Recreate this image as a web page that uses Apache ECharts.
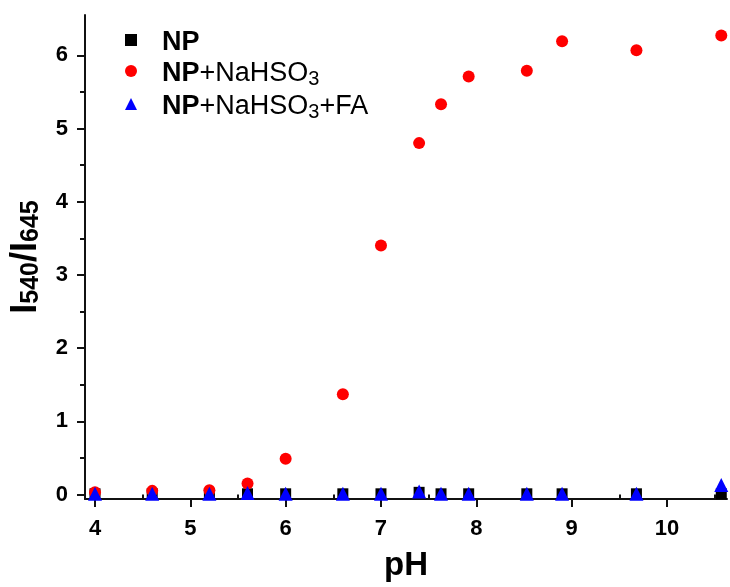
<!DOCTYPE html>
<html>
<head>
<meta charset="utf-8">
<script src="https://cdn.jsdelivr.net/npm/echarts@6/dist/echarts.min.js"></script>
<style>
  html, body { margin: 0; padding: 0; background: #fff; }
  #chart { width: 730px; height: 587px; }
</style>
</head>
<body>
<div id="chart"></div>
<script>
// pH values of the measured samples
const phValues = [4.0, 4.6, 5.2, 5.6, 6.0, 6.6, 7.0, 7.4, 7.63, 7.92, 8.53, 8.9, 9.68, 10.57];
// I540/I645 ratio for each probe system
const npOnly = [0.01, 0.01, 0.01, 0.01, 0.01, 0.01, 0.01, 0.03, 0.01, 0.01, 0.01, 0.01, 0.01, 0.01];
const npBisulfite = [0.03, 0.05, 0.06, 0.15, 0.49, 1.37, 3.40, 4.80, 5.33, 5.71, 5.79, 6.19, 6.07, 6.27];
const npBisulfiteFA = [0.01, 0.01, 0.01, 0.02, 0.01, 0.01, 0.01, 0.04, 0.01, 0.01, 0.01, 0.01, 0.01, 0.13];
// axis tick positions
const xMajorTicks = [4, 5, 6, 7, 8, 9, 10];
const xMinorTicks = [4.5, 5.5, 6.5, 7.5, 8.5, 9.5, 10.5];
const yMajorTicks = [0, 1, 2, 3, 4, 5, 6];
const yMinorTicks = [0.5, 1.5, 2.5, 3.5, 4.5, 5.5];

const font = '"Liberation Sans", Arial, sans-serif';
const pairs = arr => phValues.map((x, i) => [x, arr[i]]);

const X_MIN = 3.895, X_MAX = 10.63;
const Y_MIN = -0.061, Y_MAX = 6.55;

const axisBase = {
  type: 'value',
  splitLine: { show: false },
  axisLine: { show: true, onZero: false, lineStyle: { color: '#111', width: 2 } }
};
const tickStyle = { color: '#111', width: 2 };
const labelStyle = { fontFamily: font, fontSize: 22, fontWeight: 'bold', color: '#000' };

const chart = echarts.init(document.getElementById('chart'));
chart.setOption({
  animation: false,
  backgroundColor: '#fff',
  grid: { left: 83, top: 15, right: 3, bottom: 88, containLabel: false },
  legend: {
    orient: 'vertical',
    left: 120,
    top: 24,
    itemGap: 4,
    itemWidth: 12,
    itemHeight: 12,
    textStyle: {
      fontFamily: font,
      fontSize: 27,
      color: '#000',
      padding: [0, 0, 0, 20],
      rich: {
        b: { fontFamily: font, fontSize: 27, fontWeight: 'bold', color: '#000', lineHeight: 32, verticalAlign: 'bottom' },
        n: { fontFamily: font, fontSize: 27, color: '#000', lineHeight: 32, verticalAlign: 'bottom' },
        s: { fontFamily: font, fontSize: 20, color: '#000', lineHeight: 32, verticalAlign: 'bottom', padding: [0, 0, -2, 0] }
      }
    },
    formatter: name => {
      if (name === 'NP') return '{b|NP}';
      if (name === 'NP+NaHSO3') return '{b|NP}{n|+NaHSO}{s|3}';
      return '{b|NP}{n|+NaHSO}{s|3}{n|+FA}';
    },
    data: [
      { name: 'NP', icon: 'rect', itemStyle: { color: '#000' } },
      { name: 'NP+NaHSO3', icon: 'circle', itemStyle: { color: '#f00' } },
      { name: 'NP+NaHSO3+FA', icon: 'triangle', itemStyle: { color: '#00f' } }
    ]
  },
  xAxis: [
    Object.assign({}, axisBase, {
      min: X_MIN, max: X_MAX,
      name: 'pH',
      nameLocation: 'middle',
      nameGap: 50,
      nameTextStyle: { fontFamily: font, fontSize: 33, fontWeight: 'bold', color: '#000' },
      axisTick: { show: true, inside: false, length: 8, customValues: xMajorTicks, lineStyle: tickStyle },
      axisLabel: Object.assign({ customValues: xMajorTicks, margin: 19 }, labelStyle)
    }),
    Object.assign({}, axisBase, {
      min: X_MIN, max: X_MAX,
      position: 'bottom',
      axisLine: { show: false },
      axisTick: { show: true, inside: false, length: 5, customValues: xMinorTicks, lineStyle: tickStyle },
      axisLabel: { show: false }
    })
  ],
  yAxis: [
    Object.assign({}, axisBase, {
      min: Y_MIN, max: Y_MAX,
      name: '{i|I}{s|540}{i|/I}{s|645}',
      nameLocation: 'middle',
      nameGap: 41,
      nameRotate: 90,
      nameTextStyle: {
        rich: {
          i: { fontFamily: font, fontSize: 36, fontWeight: 'bold', color: '#000', verticalAlign: 'bottom', lineHeight: 40 },
          s: { fontFamily: font, fontSize: 25, fontWeight: 'bold', color: '#000', verticalAlign: 'bottom', lineHeight: 40 }
        }
      },
      axisTick: { show: true, inside: false, length: 8, customValues: yMajorTicks, lineStyle: tickStyle },
      axisLabel: Object.assign({ customValues: yMajorTicks, margin: 17 }, labelStyle)
    }),
    Object.assign({}, axisBase, {
      min: Y_MIN, max: Y_MAX,
      position: 'left',
      axisLine: { show: false },
      axisTick: { show: true, inside: false, length: 5, customValues: yMinorTicks, lineStyle: tickStyle },
      axisLabel: { show: false }
    })
  ],
  series: [
    {
      name: 'NP', type: 'scatter', symbol: 'rect', symbolSize: 11,
      itemStyle: { color: '#000', opacity: 1 }, data: pairs(npOnly), z: 2
    },
    {
      name: 'NP+NaHSO3', type: 'scatter', symbol: 'circle', symbolSize: 12,
      itemStyle: { color: '#f00', opacity: 1 }, data: pairs(npBisulfite), z: 3
    },
    {
      name: 'NP+NaHSO3+FA', type: 'scatter', symbol: 'triangle', symbolSize: 14,
      itemStyle: { color: '#00f', opacity: 1 }, data: pairs(npBisulfiteFA), z: 4
    }
  ]
});
</script>
</body>
</html>
